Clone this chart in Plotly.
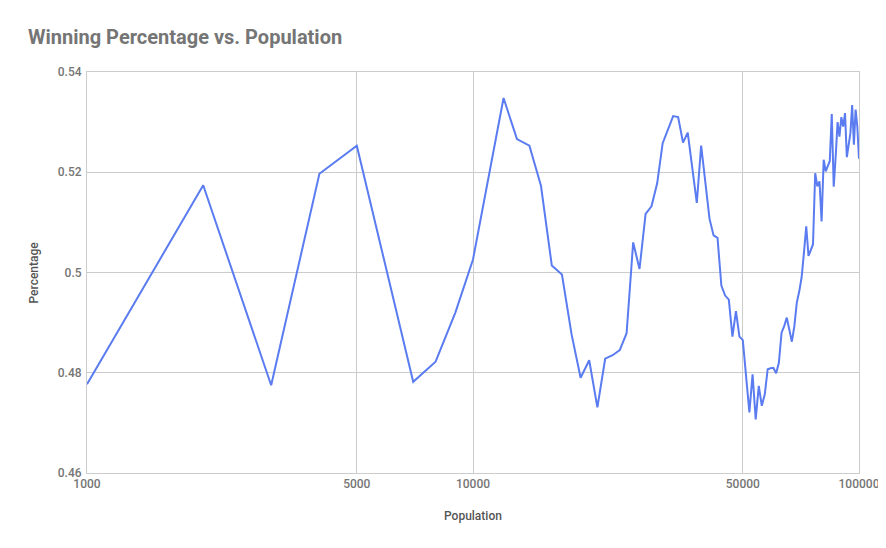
import plotly.graph_objects as go

# population sizes (x) and winning percentage (y)
population = [
    1000, 2000, 3000, 4000, 5000, 7000, 8000, 9000, 10000,
    12000, 13000, 14000, 15000, 16000, 17000, 18000, 19000, 20000,
    21000, 22000, 23000, 24000, 25000, 26000, 27000, 28000, 29000, 30000,
    31000, 33000, 34000, 35000, 36000, 37000, 38000, 39000, 40000,
    41000, 42000, 43000, 44000, 45000, 46000, 47000, 48000, 49000, 50000,
    51000, 52000, 53000, 54000, 55000, 56000, 57000, 58000, 59000, 60000,
    61000, 62000, 63000, 64000, 65000, 66000, 67000, 68000, 69000, 70000,
    71000, 72000, 73000, 74000, 75000, 76000, 77000, 78000, 79000, 80000,
    81000, 82000, 83000, 84000, 85000, 86000, 87000, 88000, 89000, 90000,
    91000, 92000, 93000, 94000, 95000, 96000, 97000, 98000, 99000, 100000,
]
win_pct = [
    0.4777, 0.5174, 0.4775, 0.5197, 0.5253, 0.4782, 0.4822, 0.4920, 0.5026,
    0.5348, 0.5266, 0.5253, 0.5173, 0.5014, 0.4996, 0.4877, 0.4790, 0.4825,
    0.4731, 0.4828, 0.4835, 0.4845, 0.4879, 0.5060, 0.5007, 0.5117, 0.5132, 0.5178,
    0.5258, 0.5312, 0.5310, 0.5259, 0.5279, 0.5212, 0.5139, 0.5253, 0.5178,
    0.5107, 0.5074, 0.5069, 0.4974, 0.4954, 0.4946, 0.4872, 0.4923, 0.4872, 0.4865,
    0.4790, 0.4721, 0.4797, 0.4707, 0.4774, 0.4734, 0.4757, 0.4807, 0.4809, 0.4810,
    0.4799, 0.4820, 0.4880, 0.4893, 0.4910, 0.4887, 0.4862, 0.4893, 0.4940, 0.4962,
    0.4990, 0.5039, 0.5092, 0.5033, 0.5046, 0.5056, 0.5198, 0.5172, 0.5182, 0.5102,
    0.5225, 0.5202, 0.5212, 0.5222, 0.5316, 0.5171, 0.5230, 0.5300, 0.5271, 0.5310,
    0.5291, 0.5318, 0.5230, 0.5260, 0.5278, 0.5334, 0.5255, 0.5325, 0.5291, 0.5227,
]

x_ticks = [1000, 5000, 10000, 50000, 100000]
x_tick_labels = ["1000", "5000", "10000", "50000", "100000"]
y_ticks = [0.46, 0.48, 0.5, 0.52, 0.54]

grid = "#cccccc"
label_font = dict(family="Roboto", size=12, color="#757575", weight=500)

# the page body has an 8px margin, so everything below is shifted back by 8px
fig = go.Figure()
fig.add_trace(go.Scatter(
    x=population,
    y=win_pct,
    mode="lines",
    line=dict(color="#5a7cf0", width=2),
    showlegend=False,
))

fig.update_layout(
    width=886,
    height=548,
    paper_bgcolor="white",
    plot_bgcolor="white",
    margin=dict(l=79, r=35, t=64, b=83),
    title=dict(
        text="Winning Percentage vs. Population",
        x=20 / 886, xref="container", xanchor="left",
        y=1 - 29 / 548, yref="container", yanchor="middle",
        font=dict(family="Roboto", size=20, color="#757575", weight="bold"),
    ),
    xaxis=dict(
        type="log",
        range=[3, 5],
        tickvals=x_ticks,
        ticktext=x_tick_labels,
        showgrid=True, gridcolor=grid, gridwidth=1,
        showline=True, linecolor=grid, linewidth=1, mirror=True,
        ticks="", tickfont=label_font,
        zeroline=False,
    ),
    yaxis=dict(
        range=[0.46, 0.54],
        tickvals=y_ticks,
        showgrid=True, gridcolor=grid, gridwidth=1,
        showline=True, linecolor=grid, linewidth=1, mirror=True,
        ticks="", tickfont=label_font, ticklabelstandoff=2,
        zeroline=False,
    ),
    annotations=[
        dict(text="Population", xref="paper", yref="paper", x=0.5, y=-43 / 401,
             yanchor="middle", showarrow=False,
             font=dict(family="Roboto", size=12, color="#555555", weight=500)),
        dict(text="Percentage", xref="paper", yref="paper", x=-54 / 772, y=0.5,
             xanchor="center", textangle=-90, showarrow=False,
             font=dict(family="Roboto", size=12, color="#555555", weight=500)),
    ],
)

fig.write_html("out.html")
